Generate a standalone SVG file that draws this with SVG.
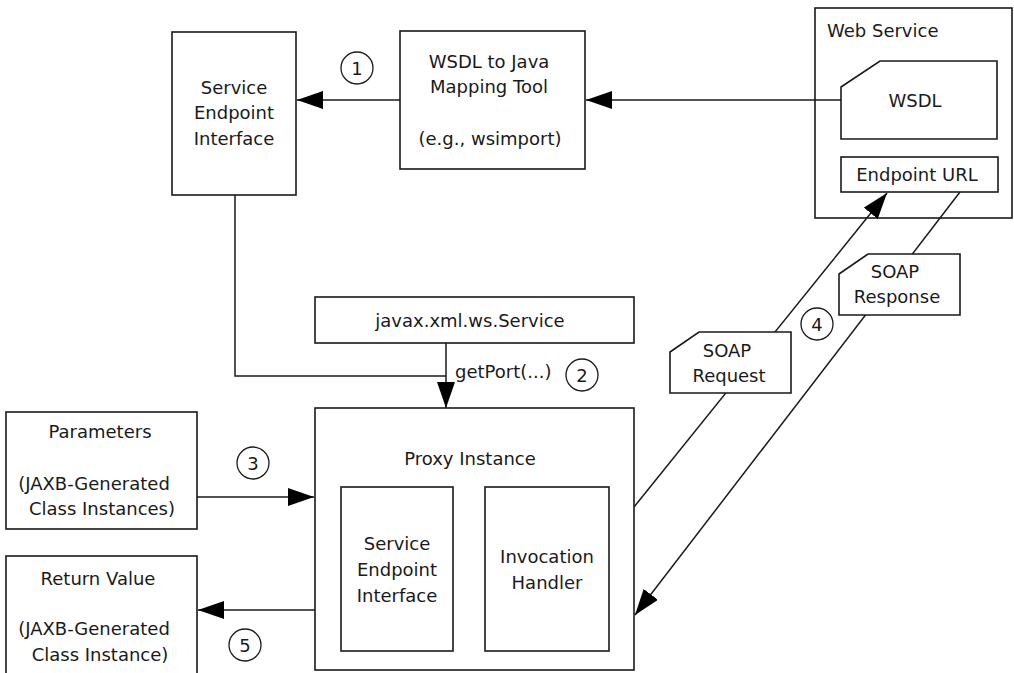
<svg xmlns="http://www.w3.org/2000/svg" width="1014" height="673" viewBox="0 0 1014 673">
<style>
.box{fill:#fff;stroke:#1a1a1a;stroke-width:1.6}
.t{font-family:"DejaVu Sans",sans-serif;font-size:18px;fill:#1a1a1a;text-anchor:middle}
.tl{font-family:"DejaVu Sans",sans-serif;font-size:18px;fill:#1a1a1a}
.ln{fill:none;stroke:#1a1a1a;stroke-width:1.5}
.num{fill:#fff;stroke:#1a1a1a;stroke-width:1.3}
</style>
<defs>
<marker id="ah" markerUnits="userSpaceOnUse" markerWidth="27" markerHeight="18" refX="26" refY="9" orient="auto">
<path d="M0,0 L26,9 L0,18 Z" fill="#000"/>
</marker>
</defs>
<rect width="1014" height="673" fill="#fff"/>
<g id="web-service">
<rect class="box" x="815" y="8" width="197" height="210"/>
<text class="tl" x="827" y="37">Web Service</text>
</g>
<g id="connectors">
<line class="ln" x1="400" y1="100" x2="297" y2="100" marker-end="url(#ah)"/>
<line class="ln" x1="841" y1="100" x2="586" y2="100" marker-end="url(#ah)"/>
<polyline class="ln" points="235,195 235,376 446,376"/>
<line class="ln" x1="446" y1="343" x2="446" y2="408" marker-end="url(#ah)"/>
<line class="ln" x1="197" y1="497" x2="314" y2="497" marker-end="url(#ah)"/>
<line class="ln" x1="315" y1="610" x2="198" y2="610" marker-end="url(#ah)"/>
<line class="ln" x1="634" y1="507" x2="887" y2="193" marker-end="url(#ah)"/>
<line class="ln" x1="960" y1="192" x2="635" y2="615" marker-end="url(#ah)"/>
</g>
<g id="sei-top">
<rect class="box" x="172" y="32" width="124" height="163"/>
<text class="t" x="234" y="94">Service</text>
<text class="t" x="234" y="119">Endpoint</text>
<text class="t" x="234" y="145">Interface</text>
</g>
<g id="wsdl-tool">
<rect class="box" x="400" y="31" width="185" height="138"/>
<text class="t" x="489" y="68">WSDL to Java</text>
<text class="t" x="489" y="93">Mapping Tool</text>
<text class="t" x="490" y="145">(e.g., wsimport)</text>
</g>
<g id="wsdl">
<path class="box" d="M841,87 L880,61 L997,61 L997,139 L841,139 Z"/>
<text class="t" x="915" y="107">WSDL</text>
</g>
<g id="endpoint-url">
<rect class="box" x="841" y="157" width="157" height="35"/>
<text class="t" x="917" y="181">Endpoint URL</text>
</g>
<g id="javax-service">
<rect class="box" x="315" y="297" width="319" height="46"/>
<text class="t" x="470" y="327">javax.xml.ws.Service</text>
</g>
<text class="tl" x="455" y="378">getPort(...)</text>
<g id="proxy">
<rect class="box" x="315" y="408" width="319" height="262"/>
<text class="t" x="470" y="465">Proxy Instance</text>
</g>
<g id="sei-inner">
<rect class="box" x="341" y="487" width="112" height="164"/>
<text class="t" x="397" y="550">Service</text>
<text class="t" x="397" y="576">Endpoint</text>
<text class="t" x="397" y="602">Interface</text>
</g>
<g id="invocation-handler">
<rect class="box" x="485" y="487" width="124" height="164"/>
<text class="t" x="547" y="563">Invocation</text>
<text class="t" x="547" y="589">Handler</text>
</g>
<g id="parameters">
<rect class="box" x="6" y="412" width="191" height="117"/>
<text class="t" x="100" y="438">Parameters</text>
<text class="t" x="94" y="490">(JAXB-Generated</text>
<text class="t" x="102" y="515">Class Instances)</text>
</g>
<g id="return-value">
<rect class="box" x="6" y="556" width="191" height="130"/>
<text class="t" x="98" y="585">Return Value</text>
<text class="t" x="94" y="635">(JAXB-Generated</text>
<text class="t" x="100" y="661">Class Instance)</text>
</g>
<g id="soap-request">
<path class="box" d="M670,352 L699,332 L791,332 L791,393 L670,393 Z"/>
<text class="t" x="727" y="357">SOAP</text>
<text class="t" x="729" y="382">Request</text>
</g>
<g id="soap-response">
<path class="box" d="M839,274 L868,254 L960,254 L960,315 L839,315 Z"/>
<text class="t" x="895" y="278">SOAP</text>
<text class="t" x="897" y="303">Response</text>
</g>
<g id="step-numbers">
<circle class="num" cx="357" cy="68" r="16"/><text class="t" x="357" y="75">1</text>
<circle class="num" cx="582" cy="375" r="16"/><text class="t" x="582" y="382">2</text>
<circle class="num" cx="253" cy="463" r="16"/><text class="t" x="253" y="470">3</text>
<circle class="num" cx="817" cy="324" r="16"/><text class="t" x="817" y="331">4</text>
<circle class="num" cx="245" cy="645" r="16"/><text class="t" x="245" y="652">5</text>
</g>
</svg>
